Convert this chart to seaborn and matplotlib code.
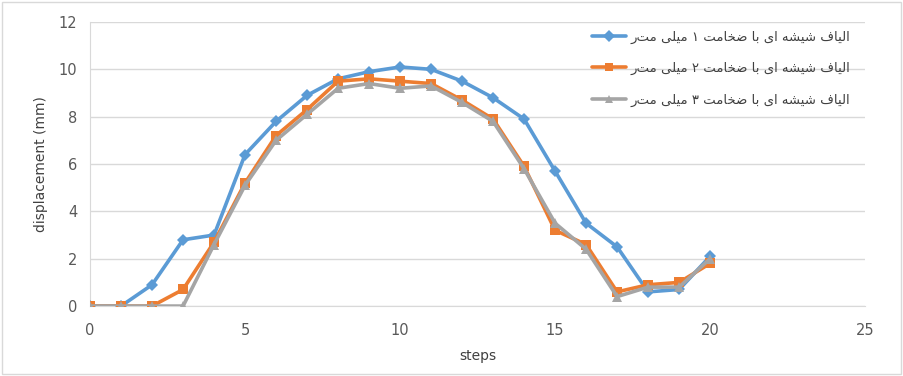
import pandas as pd
import matplotlib
matplotlib.use("Agg")
import matplotlib.pyplot as plt
import seaborn as sns
from matplotlib.patches import Rectangle

# data
steps = list(range(21))
s1 = [0, 0, 0.9, 2.8, 3.0, 6.4, 7.8, 8.9, 9.6, 9.9, 10.1, 10.0, 9.5, 8.8, 7.9, 5.7, 3.5, 2.5, 0.6, 0.7, 2.1]
s2 = [0, 0, 0, 0.7, 2.7, 5.2, 7.2, 8.3, 9.5, 9.6, 9.5, 9.4, 8.7, 7.9, 5.9, 3.2, 2.6, 0.6, 0.9, 1.0, 1.8]
s3 = [0, 0, 0, 0, 2.6, 5.1, 7.0, 8.1, 9.2, 9.4, 9.2, 9.3, 8.6, 7.8, 5.8, 3.5, 2.4, 0.4, 0.8, 0.8, 2.0]
names = ["الیاف شیشه ای با ضخامت ۱ میلی متر",
         "الیاف شیشه ای با ضخامت ۲ میلی متر",
         "الیاف شیشه ای با ضخامت ۳ میلی متر"]
colors = ["#5B9BD5", "#ED7D31", "#A5A5A5"]
markers = ["D", "s", "^"]

# minimal arabic shaping (matplotlib has no shaping / bidi)
FORMS = {  # isolated, final, initial, medial
    "ا": ("\uFE8D", "\uFE8E", None, None),
    "ل": ("\uFEDD", "\uFEDE", "\uFEDF", "\uFEE0"),
    "ی": ("\uFBFC", "\uFBFD", "\uFBFE", "\uFBFF"),
    "ف": ("\uFED1", "\uFED2", "\uFED3", "\uFED4"),
    "ش": ("\uFEB5", "\uFEB6", "\uFEB7", "\uFEB8"),
    "ه": ("\uFEE9", "\uFEEA", "\uFEEB", "\uFEEC"),
    "ب": ("\uFE8F", "\uFE90", "\uFE91", "\uFE92"),
    "ض": ("\uFEBD", "\uFEBE", "\uFEBF", "\uFEC0"),
    "خ": ("\uFEA5", "\uFEA6", "\uFEA7", "\uFEA8"),
    "م": ("\uFEE1", "\uFEE2", "\uFEE3", "\uFEE4"),
    "ت": ("\uFE95", "\uFE96", "\uFE97", "\uFE98"),
}


def shape(text):
    out = []
    for i, ch in enumerate(text):
        if ch not in FORMS:
            out.append(ch)
            continue
        prev = text[i - 1] if i > 0 else ""
        nxt = text[i + 1] if i + 1 < len(text) else ""
        join_prev = prev in FORMS and FORMS[prev][2] is not None
        join_next = nxt in FORMS and FORMS[ch][2] is not None
        iso, fin, ini, med = FORMS[ch]
        if join_prev and join_next:
            out.append(med)
        elif join_prev:
            out.append(fin)
        elif join_next:
            out.append(ini)
        else:
            out.append(iso)
    return "".join(out)[::-1]


labels = [shape(n) for n in names]
df = pd.DataFrame({
    "steps": steps * 3,
    "disp": s1 + s2 + s3,
    "series": [labels[0]] * len(steps) + [labels[1]] * len(steps) + [labels[2]] * len(steps),
})

sns.set_style("white")
plt.rcParams["font.family"] = ["DejaVu Sans"]

fig = plt.figure(figsize=(9.04, 3.76), dpi=100)
ax = fig.add_axes([0.0996, 0.186, 0.8574, 0.7555])

sns.lineplot(data=df, x="steps", y="disp", hue="series", style="series",
             palette=dict(zip(labels, colors)), markers=dict(zip(labels, markers)),
             dashes=False, linewidth=2.6, markersize=6.5, markeredgewidth=0,
             ax=ax, legend=True, zorder=3)

ax.set_xlim(0, 25)
ax.set_ylim(0, 12)
ax.set_xticks(range(0, 26, 5))
ax.set_yticks(range(0, 13, 2))
ax.grid(axis="y", color="#D9D9D9", linewidth=1)
ax.set_axisbelow(True)
for s in ["top", "right"]:
    ax.spines[s].set_visible(False)
ax.spines["left"].set_color("#D9D9D9")
ax.spines["bottom"].set_color("#D9D9D9")
ax.tick_params(axis="both", length=0, labelsize=10.5, labelcolor="#595959")
ax.tick_params(axis="x", pad=12)
ax.tick_params(axis="y", pad=9)
ax.set_xlabel("steps", fontsize=10, color="#404040", labelpad=8)
ax.set_ylabel("displacement (mm)", fontsize=10, color="#404040", labelpad=8)

leg = ax.legend(frameon=False, loc="upper left", bbox_to_anchor=(0.632, 1.012),
                fontsize=9.5, handlelength=2.6, handletextpad=0.35, labelspacing=1.4,
                markerscale=0.95)
for t in leg.get_texts():
    t.set_color("#404040")

fig.patches.append(Rectangle((0.002, 0.004), 0.995, 0.99, transform=fig.transFigure,
                             fill=False, edgecolor="#D9D9D9", linewidth=1))

fig.savefig("out.png", dpi=100)
